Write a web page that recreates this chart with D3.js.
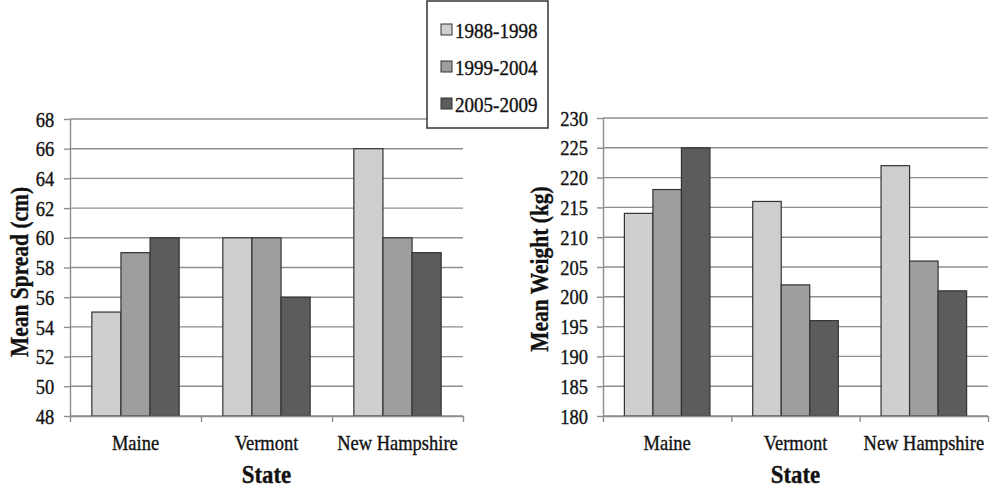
<!DOCTYPE html>
<html>
<head>
<meta charset="utf-8">
<script src="https://cdn.jsdelivr.net/npm/d3@7"></script>
<style>
  body { margin: 0; background: #fff; }
  text { font-family: "Liberation Serif", "Times New Roman", serif; fill: #111; stroke: #111; stroke-width: 0.35px; }
</style>
</head>
<body>
<div id="chart"></div>
<script>
// Data

let states = ["Maine", "Vermont", "New Hampshire"];
let periods = ["1988-1998", "1999-2004", "2005-2009"];

// Mean spread (cm), one array per period, in state order
let spread8898 = [55, 60, 66];
let spread9904 = [59, 60, 60];
let spread0509 = [60, 56, 59];
let spreadTicks = [48, 50, 52, 54, 56, 58, 60, 62, 64, 66, 68];

// Mean weight (kg)
let weight8898 = [214, 216, 222];
let weight9904 = [218, 202, 206];
let weight0509 = [225, 196, 201];
let weightTicks = [180, 185, 190, 195, 200, 205, 210, 215, 220, 225, 230];

let barColors = ["#cfcfcf", "#9e9e9e", "#5c5c5c"];

let svgWidth = 992;
let svgHeight = 491;

// the lettering in the picture is tall and narrow, so squeeze it a bit
let squeeze = 0.88;

var svg = d3.select("#chart")
    .append("svg")
    .attr("width", svgWidth)
    .attr("height", svgHeight);

// Draw one panel of grouped bars

function drawPanel(opt) {
    let series = opt.series;

    let x0 = d3.scaleBand()
        .domain(states)
        .range([opt.left, opt.right])
        .padding(0);

    let x1 = d3.scaleBand()
        .domain(periods)
        .range([0, x0.bandwidth()])
        .paddingInner(0)
        .paddingOuter(0.75);

    let y = d3.scaleLinear()
        .domain(d3.extent(opt.ticks))
        .range([opt.bottom, opt.top]);

    let g = svg.append("g");

    // gridlines
    g.selectAll(".grid")
        .data(opt.ticks)
        .enter()
        .append("line")
        .attr("x1", opt.left)
        .attr("x2", opt.right)
        .attr("y1", d => y(d))
        .attr("y2", d => y(d))
        .attr("stroke", "#8e8e8e")
        .attr("stroke-width", 1.4);

    // bars
    let rows = states.map((s, i) => ({ state: s, values: series.map(v => v[i]) }));

    g.selectAll(".state")
        .data(rows)
        .enter()
        .append("g")
        .attr("transform", d => `translate(${x0(d.state)},0)`)
        .selectAll("rect")
        .data(d => d.values.map((v, j) => ({ period: periods[j], value: v, k: j })))
        .enter()
        .append("rect")
        .attr("x", d => x1(d.period))
        .attr("width", x1.bandwidth())
        .attr("y", d => y(d.value))
        .attr("height", d => opt.bottom - y(d.value))
        .attr("fill", d => barColors[d.k])
        .attr("stroke", "#333")
        .attr("stroke-width", 1.2);

    // left axis
    let leftAxis = d3.axisLeft(y)
        .tickValues(opt.ticks)
        .tickSize(6)
        .tickPadding(opt.tickPad)
        .tickSizeOuter(0);

    let ay = g.append("g")
        .attr("transform", `translate(${opt.left},0)`)
        .call(leftAxis);
    ay.select(".domain").attr("stroke", "#8e8e8e").attr("stroke-width", 1.4);
    ay.selectAll(".tick line").attr("stroke", "#8e8e8e").attr("stroke-width", 1.4);
    ay.selectAll(".tick text")
        .attr("transform", `scale(${squeeze},1)`)
        .attr("dy", "0.34em")
        .style("font-family", "Liberation Serif")
        .style("font-size", "21px")
        .attr("fill", "#111");

    // bottom axis with ticks between categories
    let xLine = d3.scaleLinear().domain([0, states.length]).range([opt.left, opt.right]);
    let bottomAxis = d3.axisBottom(xLine)
        .tickValues(d3.range(states.length + 1))
        .tickSize(6)
        .tickSizeOuter(0)
        .tickFormat("");

    let ax = g.append("g")
        .attr("transform", `translate(0,${opt.bottom})`)
        .call(bottomAxis);
    ax.select(".domain").attr("stroke", "#8e8e8e").attr("stroke-width", 1.4);
    ax.selectAll(".tick line").attr("stroke", "#8e8e8e").attr("stroke-width", 1.4);

    // category labels
    g.selectAll(".cat")
        .data(states)
        .enter()
        .append("text")
        .attr("transform", d => `translate(${x0(d) + x0.bandwidth() / 2},${opt.bottom + 34}) scale(${squeeze},1)`)
        .attr("text-anchor", "middle")
        .style("font-size", "21px")
        .text(d => d);

    // axis titles
    g.append("text")
        .attr("transform", `translate(${(opt.left + opt.right) / 2},483) scale(0.88,1)`)
        .attr("text-anchor", "middle")
        .style("font-size", "26px")
        .style("font-weight", "bold")
        .text("State");

    g.append("text")
        .attr("transform", `translate(${opt.titleX},${opt.titleY}) rotate(-90) scale(0.86,1)`)
        .attr("text-anchor", "middle")
        .style("font-size", "25px")
        .style("font-weight", "bold")
        .text(opt.title);
}

drawPanel({
    series: [spread8898, spread9904, spread0509],
    ticks: spreadTicks,
    left: 70, right: 463, top: 119, bottom: 416,
    tickPad: 12,
    title: "Mean Spread (cm)", titleX: 28, titleY: 272
});

drawPanel({
    series: [weight8898, weight9904, weight0509],
    ticks: weightTicks,
    left: 603, right: 988, top: 118, bottom: 416,
    tickPad: 11,
    title: "Mean Weight (kg)", titleX: 548, titleY: 269
});

// Legend

let legend = svg.append("g");

legend.append("rect")
    .attr("x", 427)
    .attr("y", 1)
    .attr("width", 121)
    .attr("height", 127)
    .attr("fill", "#fff")
    .attr("stroke", "#333")
    .attr("stroke-width", 1.5);

let legendY = d3.scalePoint().domain(periods).range([33, 107]);

legend.selectAll(".key")
    .data(periods)
    .enter()
    .append("rect")
    .attr("x", 441)
    .attr("y", d => legendY(d) - 9)
    .attr("width", 11)
    .attr("height", 11)
    .attr("fill", (d, i) => barColors[i])
    .attr("stroke", "#333")
    .attr("stroke-width", 1);

legend.selectAll(".label")
    .data(periods)
    .enter()
    .append("text")
    .attr("transform", d => `translate(455,${legendY(d) + 5}) scale(0.93,1)`)
    .style("font-size", "20.5px")
    .text(d => d);
</script>
</body>
</html>
